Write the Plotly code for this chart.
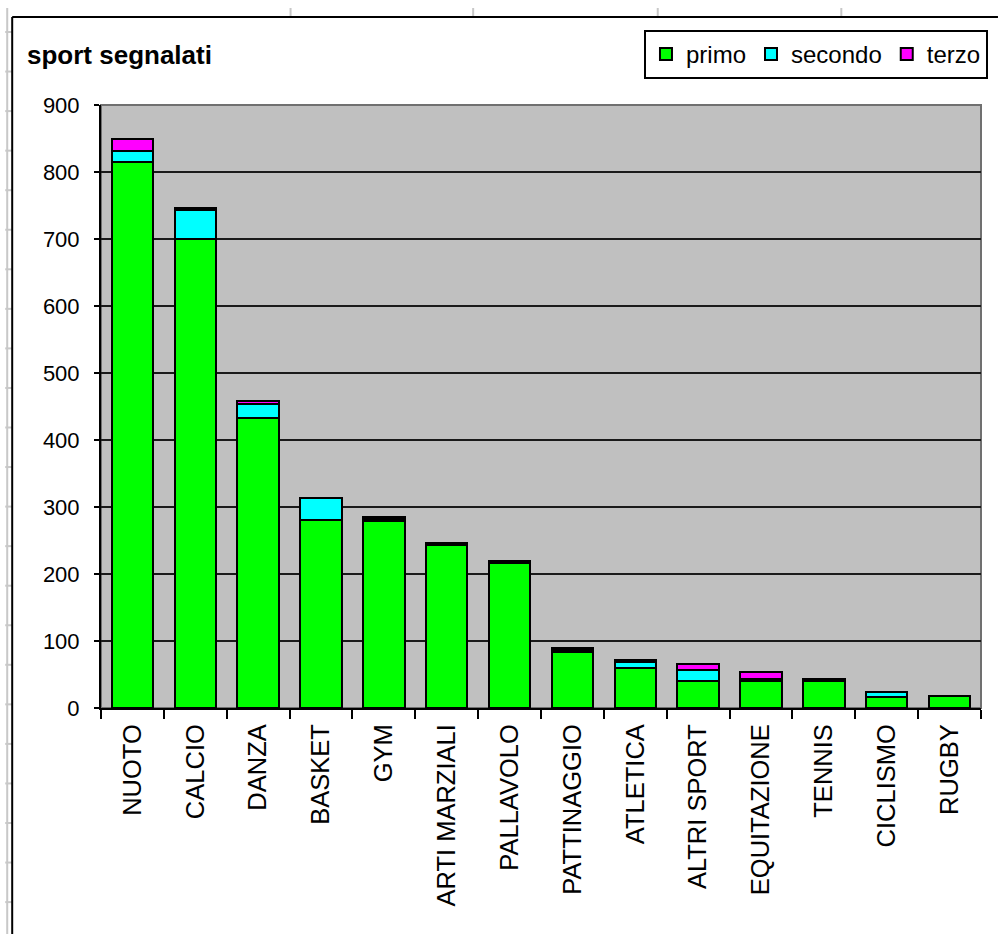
import plotly.graph_objects as go

# Sports reported, split by first / second / third choice
categories = ["NUOTO", "CALCIO", "DANZA", "BASKET", "GYM", "ARTI MARZIALI", "PALLAVOLO",
              "PATTINAGGIO", "ATLETICA", "ALTRI SPORT", "EQUITAZIONE", "TENNIS", "CICLISMO", "RUGBY"]
primo = [815, 700, 433, 280, 279, 244, 217, 83, 60, 41, 40, 41, 17, 18]
secondo = [16, 43, 20, 34, 3, 1, 1, 3, 8, 16, 4, 0, 7, 0]
terzo = [18, 4, 5, 0, 3, 2, 2, 3, 4, 8, 10, 2, 0, 0]

series_names = ["primo", "secondo", "terzo"]
series_colors = ["#00FF00", "#00FFFF", "#FF00FF"]
y_ticks = [0, 100, 200, 300, 400, 500, 600, 700, 800, 900]

FONT = "Liberation Sans, Arial, sans-serif"

# plot-area geometry in pixels
FIG_W, FIG_H = 1000, 934
L, R, T, B = 101, 983, 105, 708
W, H = R - L, B - T


def px(x):
    return (x - L) / W


def py(y):
    return (B - y) / H


fig = go.Figure()
for name, vals, col in zip(series_names, [primo, secondo, terzo], series_colors):
    fig.add_trace(go.Bar(
        x=categories, y=vals, name=name,
        marker=dict(color=col, line=dict(color="black", width=2)),
    ))

shapes = []
# worksheet grid around the chart object
GRID = "#c8c8c8"
shapes.append(dict(type="line", xref="paper", yref="paper",
                   x0=px(7), x1=px(7), y0=py(8), y1=py(FIG_H),
                   line=dict(color=GRID, width=2)))
row_y = 32.0
while row_y < FIG_H:
    shapes.append(dict(type="line", xref="paper", yref="paper",
                       x0=px(5), x1=px(12), y0=py(row_y), y1=py(row_y),
                       line=dict(color=GRID, width=2)))
    row_y += 39.55
for cx in [291, 474, 659, 843]:
    shapes.append(dict(type="line", xref="paper", yref="paper",
                       x0=px(cx), x1=px(cx), y0=py(8), y1=py(17),
                       line=dict(color=GRID, width=2)))
# chart object frame
shapes.append(dict(type="line", xref="paper", yref="paper",
                   x0=px(12), x1=px(FIG_W), y0=py(17), y1=py(17),
                   line=dict(color="black", width=2)))
shapes.append(dict(type="line", xref="paper", yref="paper",
                   x0=px(12), x1=px(12), y0=py(17), y1=py(FIG_H),
                   line=dict(color="black", width=2)))
# plot area border
shapes.append(dict(type="rect", xref="paper", yref="paper",
                   x0=0, x1=1, y0=0, y1=1, layer="below",
                   line=dict(color="#707070", width=2)))

fig.update_layout(
    width=FIG_W, height=FIG_H,
    margin=dict(l=L, r=FIG_W - R, t=T, b=FIG_H - B),
    paper_bgcolor="white",
    plot_bgcolor="#C0C0C0",
    barmode="stack",
    bargap=0.34,
    font=dict(family=FONT, color="black"),
    title=dict(text="<b>sport segnalati</b>", x=27 / FIG_W, xanchor="left",
               y=1 - 55 / FIG_H, yanchor="middle",
               font=dict(family=FONT, size=26, color="black")),
    legend=dict(orientation="h", x=px(990), xanchor="right", y=py(30), yanchor="top",
                bgcolor="white", bordercolor="black", borderwidth=2,
                font=dict(family=FONT, size=24, color="black"),
                traceorder="normal", itemsizing="constant"),
    shapes=shapes,
    xaxis=dict(
        type="category", tickangle=-90, tickson="boundaries",
        ticks="outside", ticklen=9, tickwidth=2, tickcolor="black",
        showline=True, linecolor="black", linewidth=2,
        showgrid=False, tickfont=dict(family=FONT, size=25.5, color="black"),
        ticklabelstandoff=4,
    ),
    yaxis=dict(
        range=[0, 900], tickvals=y_ticks,
        ticks="outside", ticklen=5, tickwidth=2, tickcolor="black",
        showline=True, linecolor="black", linewidth=2,
        showgrid=True, gridcolor="#1a1a1a", gridwidth=2,
        zeroline=False,
        tickfont=dict(family=FONT, size=22, color="black"),
        ticklabelstandoff=10,
    ),
)

fig.write_html("out.html")
